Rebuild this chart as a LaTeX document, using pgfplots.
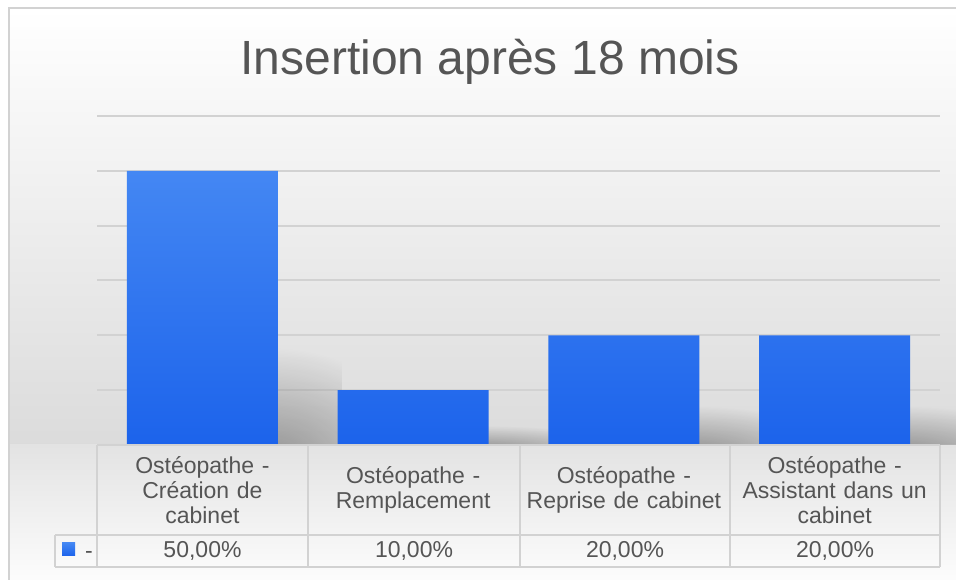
\documentclass[border=0pt]{standalone}
\usepackage{fontspec}
\setmainfont{Liberation Sans}
\usepackage{pgfplots}
\pgfplotsset{compat=1.18}
\usetikzlibrary{fadings}
\definecolor{txt}{HTML}{555555}
\definecolor{gridc}{HTML}{D2D2D2}
\definecolor{bartop}{HTML}{4487F3}
\definecolor{barbot}{HTML}{1C63EB}
\begin{tikzfadingfrompicture}[name=shfade]
\path[use as bounding box] (0,0) rectangle (2,2);
\fill[transparent!100] (0,0) rectangle (2,2);
\begin{scope}
\clip (0,0) rectangle (2,2);
\shade[inner color=transparent!66, outer color=transparent!100] (0,0) ellipse (4 and 0.75);
\end{scope}
\end{tikzfadingfrompicture}
\pgfplotsset{shadowbar/.style={ybar, bar width=70pt, bar shift=105pt, draw=none, fill=black, path fading=shfade, fit fading=true, forget plot}}
\begin{document}
\begin{tikzpicture}[x=1pt,y=1pt]
\useasboundingbox (0,0) rectangle (956,580);
\fill[white] (0,0) rectangle (956,580);
\shade[top color=white, bottom color=black!14] (9,135) rectangle (956,572);
\shade[top color=black!11, bottom color=black!1] (9,0) rectangle (956,135);
\draw[gridc, line width=2pt] (9,0) -- (9,572) -- (956,572);
\node[font=\fontsize{48}{56}\selectfont, text=txt, anchor=base] at (490,505) {Insertion après 18 mois};
\begin{axis}[
  at={(97pt,135pt)}, anchor=south west, scale only axis,
  width=843pt, height=329pt,
  xmin=0, xmax=4, ymin=0, ymax=60,
  ytick={0,10,...,60}, yticklabels={},
  ymajorgrids, grid style={gridc, line width=2pt},
  axis line style={draw=none}, major tick length=0pt,
  xtick={0.5,1.5,2.5,3.5},
  xticklabels={{Ostéopathe -\\Création de\\cabinet},{Ostéopathe -\\Remplacement},{Ostéopathe -\\Reprise de cabinet},{Ostéopathe -\\Assistant dans un\\cabinet}},
  xticklabel style={font=\fontsize{23}{25}\selectfont, text=txt, align=center, text width=208pt, anchor=center, yshift=-45pt},
  legend style={at={(-0.0415,-0.3267)}, anchor=west, draw=none, fill=none, font=\fontsize{23}{25}\selectfont, text=txt, inner sep=0pt, outer sep=0pt},
  legend image code/.code={\shade[top color=bartop, bottom color=barbot] (0pt,0pt) rectangle (13pt,13pt); \path (21pt,0pt);},
  clip=false,
]
% soft shadows (one per bar so that each gets its own fading)
\addplot[shadowbar] coordinates {(0.5,50)};
\addplot[shadowbar] coordinates {(1.5,10)};
\addplot[shadowbar] coordinates {(2.5,20)};
\addplot[shadowbar] coordinates {(3.5,20)};
% bars
\addplot[ybar, bar width=151pt, draw=none, top color=bartop, bottom color=barbot]
  coordinates {(0.5,50) (1.5,10) (2.5,20) (3.5,20)};
\addlegendentry{-}
\end{axis}
\begin{scope}[gridc, line width=2pt]
\draw (97,135) -- (940,135);
\foreach \x in {97,308,520,730,940} \draw (\x,135) -- (\x,13);
\draw (55,45) -- (940,45);
\draw (55,13) -- (940,13);
\draw (55,45) -- (55,13);
\end{scope}
\begin{scope}[font=\fontsize{23}{25}\selectfont, text=txt]
\node at (202.5,29) {50,00\%};
\node at (414,29) {10,00\%};
\node at (625,29) {20,00\%};
\node at (835,29) {20,00\%};
\end{scope}
\end{tikzpicture}
\end{document}
